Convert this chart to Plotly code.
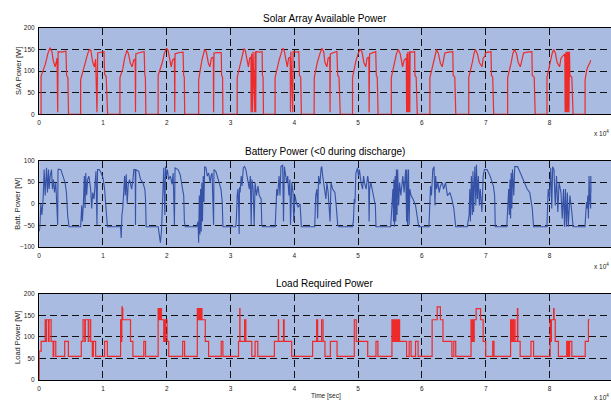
import plotly.graph_objects as go

# ---------------- data (time in units of 1e4 s) ----------------
SA_POINTS = [
    (0, 0), (0.03, 0),
    (0.03, 88), (0.045, 95), (0.068, 100), (0.094, 115), (0.12, 130), (0.135, 140), (0.17, 154), (0.2, 145),
    (0.22, 125), (0.25, 110), (0.266, 120), (0.28, 130), (0.29, 5), (0.297, 145), (0.35, 144), (0.42, 146),
    (0.43, 90), (0.45, 85), (0.46, 0), (0.65, 0),
    (0.65, 80), (0.667, 90), (0.69, 100), (0.73, 120), (0.76, 140), (0.786, 150), (0.81, 148), (0.84, 120),
    (0.865, 110), (0.885, 128), (0.906, 5), (0.917, 142), (0.97, 143), (1.016, 145), (1.026, 92), (1.05, 88),
    (1.073, 0), (1.266, 0),
    (1.266, 85), (1.29, 95), (1.31, 105), (1.34, 130), (1.375, 148), (1.40, 140), (1.43, 118), (1.458, 110),
    (1.48, 125), (1.505, 128), (1.51, 5), (1.515, 140), (1.58, 143), (1.646, 145), (1.656, 90), (1.665, 86),
    (1.672, 0), (1.865, 0),
    (1.865, 90), (1.89, 100), (1.93, 120), (1.96, 140), (1.995, 153), (2.02, 148), (2.05, 125), (2.07, 110),
    (2.09, 125), (2.12, 130), (2.125, 5), (2.13, 140), (2.2, 143), (2.255, 144), (2.265, 90), (2.275, 86),
    (2.281, 0), (2.5, 0),
    (2.5, 80), (2.52, 100), (2.55, 125), (2.594, 150), (2.62, 145), (2.65, 120), (2.675, 110), (2.70, 130),
    (2.73, 132), (2.734, 5), (2.74, 142), (2.8, 143), (2.854, 143), (2.86, 90), (2.875, 86), (2.88, 0), (3.104, 0),
    (3.104, 85), (3.13, 100), (3.16, 120), (3.21, 152), (3.23, 148), (3.26, 125), (3.28, 110), (3.30, 130),
    (3.32, 133), (3.323, 5), (3.33, 140), (3.345, 5), (3.352, 145), (3.38, 5), (3.385, 145), (3.395, 5),
    (3.40, 145), (3.45, 144), (3.495, 145), (3.50, 90), (3.51, 86), (3.516, 0), (3.698, 0),
    (3.698, 85), (3.72, 100), (3.76, 125), (3.818, 153), (3.84, 148), (3.87, 125), (3.89, 110), (3.91, 130),
    (3.935, 132), (3.94, 5), (3.945, 145), (3.975, 5), (3.98, 145), (4.03, 144), (4.07, 145), (4.08, 90),
    (4.1, 86), (4.11, 0), (4.31, 0),
    (4.3125, 85), (4.33, 100), (4.36, 120), (4.40, 140), (4.433, 153), (4.46, 145), (4.48, 120), (4.51, 110),
    (4.53, 130), (4.555, 133), (4.56, 5), (4.565, 140), (4.62, 143), (4.667, 145), (4.68, 90), (4.70, 86),
    (4.72, 0), (4.912, 0),
    (4.912, 85), (4.93, 100), (4.96, 120), (5.0, 140), (5.03, 150), (5.06, 145), (5.09, 120), (5.12, 110),
    (5.14, 130), (5.168, 132), (5.172, 5), (5.18, 140), (5.23, 143), (5.276, 145), (5.285, 90), (5.30, 86),
    (5.313, 0), (5.52, 0),
    (5.52, 85), (5.54, 100), (5.57, 120), (5.60, 140), (5.63, 150), (5.66, 140), (5.697, 110), (5.72, 125),
    (5.755, 130), (5.76, 5), (5.765, 140), (5.775, 5), (5.78, 145), (5.79, 5), (5.795, 145), (5.80, 5),
    (5.805, 145), (5.81, 5), (5.815, 145), (5.85, 144), (5.886, 145), (5.89, 90), (5.91, 86), (5.927, 0), (6.125, 0),
    (6.125, 85), (6.15, 100), (6.18, 120), (6.205, 140), (6.23, 150), (6.26, 140), (6.29, 118), (6.318, 110),
    (6.35, 130), (6.36, 142), (6.42, 144), (6.484, 145), (6.49, 90), (6.515, 86), (6.531, 0), (6.734, 0),
    (6.734, 85), (6.76, 100), (6.79, 120), (6.815, 140), (6.839, 150), (6.87, 140), (6.90, 120), (6.943, 110),
    (6.96, 130), (6.99, 135), (6.995, 142), (7.04, 144), (7.083, 145), (7.09, 90), (7.11, 86), (7.125, 0), (7.344, 0),
    (7.344, 85), (7.37, 100), (7.40, 120), (7.425, 140), (7.448, 150), (7.48, 142), (7.51, 120), (7.542, 110),
    (7.57, 130), (7.594, 142), (7.65, 144), (7.724, 145), (7.73, 90), (7.76, 86), (7.776, 0), (7.96, 0),
    (7.96, 85), (7.98, 100), (8.01, 120), (8.04, 140), (8.064, 150), (8.09, 142), (8.12, 120), (8.158, 110),
    (8.18, 130), (8.24, 140), (8.245, 5), (8.25, 145), (8.255, 5), (8.26, 145), (8.265, 5), (8.27, 145),
    (8.275, 5), (8.28, 145), (8.285, 5), (8.29, 145), (8.295, 5), (8.30, 145), (8.305, 5), (8.313, 145),
    (8.32, 90), (8.35, 86), (8.37, 0), (8.558, 0),
    (8.558, 80), (8.58, 100), (8.60, 110), (8.63, 118), (8.647, 125),
]

BATT_POINTS = [
    (0, -64), (0.01, -55), (0.026, 0), (0.042, -26), (0.062, 11), (0.078, 79), (0.094, 19), (0.115, 83),
    (0.13, 26), (0.146, 79), (0.156, 34), (0.172, 64), (0.193, 79), (0.208, 34), (0.224, 56), (0.24, 26),
    (0.26, 49), (0.29, -49), (0.295, 75), (0.30, 80), (0.34, 79), (0.375, 64), (0.406, 49), (0.427, 26),
    (0.4375, -19), (0.448, -30), (0.469, -53), (0.65, -53),
    (0.667, -4), (0.677, -41), (0.693, 0), (0.708, 64), (0.719, -10), (0.73, 71), (0.745, 20), (0.76, 56),
    (0.78, 64), (0.807, 34), (0.823, -11), (0.839, 26), (0.86, 11), (0.875, 49), (0.89, 75), (0.906, -49),
    (0.915, 79), (0.94, 79), (0.96, 75), (1.0, 60), (1.026, 34), (1.04, 4), (1.057, -49), (1.07, -53), (1.276, -53),
    (1.286, -79), (1.297, -26), (1.31, -11), (1.328, 34), (1.339, 64), (1.35, 19), (1.365, 68), (1.38, 0),
    (1.396, 45), (1.417, 56), (1.45, 34), (1.47, 56), (1.484, 79), (1.505, 79), (1.51, -49), (1.515, 79),
    (1.56, 75), (1.59, 56), (1.625, 49), (1.656, 34), (1.667, 11), (1.677, -53), (1.865, -53),
    (1.885, -71), (1.9, -90), (1.917, -64), (1.94, 19), (1.953, 83), (1.97, -26), (1.98, 86), (1.995, 64),
    (2.01, 79), (2.03, 56), (2.057, 64), (2.083, 45), (2.1, 71), (2.12, -49), (2.13, 83), (2.177, 79),
    (2.21, 68), (2.24, 41), (2.266, 19), (2.276, -41), (2.29, -53), (2.47, -53),
    (2.49, -41), (2.5, -90), (2.51, 19), (2.52, -71), (2.53, 34), (2.54, -64), (2.55, 49), (2.56, -41),
    (2.572, 64), (2.583, 4), (2.594, 86), (2.615, 83), (2.635, 64), (2.656, 71), (2.68, 49), (2.693, 64),
    (2.71, 71), (2.734, -49), (2.74, 79), (2.77, 75), (2.81, 56), (2.85, 34), (2.87, 4), (2.88, -53), (3.08, -53),
    (3.09, -41), (3.104, 19), (3.115, 34), (3.125, 4), (3.135, -70), (3.14, 38), (3.15, 26), (3.167, 64),
    (3.18, 41), (3.2, 83), (3.22, 86), (3.24, 79), (3.27, 56), (3.295, 34), (3.31, 64), (3.323, -49),
    (3.335, 56), (3.354, 34), (3.37, -49), (3.385, 49), (3.406, 19), (3.43, 41), (3.45, 19), (3.48, 11),
    (3.49, -49), (3.5, -53), (3.7, -53),
    (3.71, 4), (3.724, 34), (3.74, 19), (3.76, 64), (3.775, 19), (3.79, 86), (3.817, 90), (3.83, -41),
    (3.844, 86), (3.865, 64), (3.88, 49), (3.896, 64), (3.915, 19), (3.93, 56), (3.94, -49), (3.96, 49),
    (3.98, 26), (3.99, -41), (4.01, 19), (4.036, 0), (4.06, -8), (4.09, 0), (4.11, -53), (4.32, -53),
    (4.335, 19), (4.354, 34), (4.365, -34), (4.38, 64), (4.40, 45), (4.42, 83), (4.43, 86), (4.445, 64),
    (4.47, 34), (4.495, 11), (4.51, 49), (4.53, 26), (4.56, -41), (4.575, 49), (4.6, 34), (4.636, 26),
    (4.656, -4), (4.68, -49), (4.70, -53), (4.91, -53),
    (4.925, -41), (4.94, 11), (4.95, 0), (4.965, 71), (4.99, 83), (5.005, 64), (5.02, 79), (5.045, 49),
    (5.07, 34), (5.085, 64), (5.1, 49), (5.125, 34), (5.15, 64), (5.165, 49), (5.172, -41), (5.18, 34),
    (5.2, 49), (5.25, 4), (5.27, -4), (5.28, -53), (5.51, -53),
    (5.53, -4), (5.545, 34), (5.555, -41), (5.56, 56), (5.57, -53), (5.58, 64), (5.59, -41), (5.6, 79),
    (5.61, -26), (5.62, 79), (5.635, -4), (5.65, 49), (5.67, 19), (5.70, 64), (5.72, 26), (5.745, 79),
    (5.76, -41), (5.765, 79), (5.775, -49), (5.79, 79), (5.80, -49), (5.81, 34), (5.83, 19), (5.86, 11),
    (5.9, -4), (5.93, -41), (5.95, -53), (6.11, -53),
    (6.125, -4), (6.135, 41), (6.15, 19), (6.17, 79), (6.19, 86), (6.205, -4), (6.215, 64), (6.23, 34),
    (6.25, 49), (6.27, 26), (6.29, 41), (6.32, 49), (6.34, 34), (6.37, 49), (6.4, 19), (6.44, 26),
    (6.47, 11), (6.5, -11), (6.53, -53), (6.71, -53),
    (6.74, -26), (6.75, 34), (6.76, -41), (6.775, 64), (6.79, -26), (6.80, 75), (6.81, -19), (6.83, 86),
    (6.845, -4), (6.855, 90), (6.87, 11), (6.885, 64), (6.9, -4), (6.915, 34), (6.94, -19), (6.96, 64),
    (6.98, 79), (7.02, 79), (7.07, 64), (7.12, 41), (7.14, 19), (7.15, -53), (7.33, -53),
    (7.35, -4), (7.36, 34), (7.37, -26), (7.38, 56), (7.39, -34), (7.40, 71), (7.41, -11), (7.42, 79),
    (7.44, 19), (7.455, 86), (7.5, 86), (7.53, 75), (7.57, 64), (7.6, 49), (7.65, 34), (7.69, 26),
    (7.71, 4), (7.73, -11), (7.75, -53), (7.96, -53),
    (7.97, -4), (7.98, 34), (8.0, 11), (8.02, 83), (8.035, -11), (8.05, 86), (8.07, 79), (8.09, -4),
    (8.11, 64), (8.13, -19), (8.15, 49), (8.18, 26), (8.20, -34), (8.22, 34), (8.235, -53), (8.25, 34),
    (8.265, -53), (8.28, 26), (8.295, -53), (8.32, 19), (8.35, -19), (8.37, -53), (8.556, -53),
    (8.57, -26), (8.58, 4), (8.59, -11), (8.60, 19), (8.61, -34), (8.62, 64), (8.63, 11), (8.645, -11),
    (8.648, 64), (8.65, 26),
]

# load: value holds from each time until the next change
LOAD_STEPS = [
    (0, 0), (0.002, 67), (0.031, 90), (0.094, 140), (0.1, 90), (0.104, 140), (0.11, 90), (0.113, 140),
    (0.145, 90), (0.148, 140), (0.152, 90), (0.155, 140), (0.1875, 90), (0.219, 55), (0.229, 90), (0.26, 55),
    (0.40, 90), (0.458, 55),
    (0.66, 90), (0.6875, 140), (0.715, 90), (0.718, 140), (0.721, 90), (0.724, 140), (0.77, 90), (0.773, 140),
    (0.776, 90), (0.779, 140), (0.807, 90), (0.833, 55), (0.849, 90), (0.885, 55), (1.026, 90), (1.068, 55),
    (1.276, 140), (1.292, 90), (1.295, 140), (1.298, 170), (1.302, 140), (1.306, 166), (1.31, 140),
    (1.432, 90), (1.469, 55), (1.64, 90), (1.667, 55),
    (1.865, 166), (1.868, 140), (1.872, 166), (1.876, 140), (1.88, 166), (1.885, 140), (1.89, 166),
    (1.895, 140), (1.9, 166), (1.917, 140), (1.953, 90), (1.956, 140), (1.96, 90), (1.963, 140), (1.967, 90),
    (1.97, 140), (1.975, 90), (1.978, 140), (2.005, 90), (2.031, 55), (2.25, 90), (2.28, 55),
    (2.479, 166), (2.485, 140), (2.49, 166), (2.495, 140), (2.50, 166), (2.505, 140), (2.51, 166),
    (2.515, 140), (2.52, 166), (2.525, 140), (2.53, 166), (2.54, 140), (2.545, 166), (2.552, 140),
    (2.604, 90), (2.656, 55), (2.854, 90), (2.88, 55),
    (3.125, 90), (3.145, 166), (3.148, 90), (3.22, 140), (3.24, 90), (3.333, 55), (3.385, 90), (3.427, 55),
    (3.6875, 90), (3.75, 140), (3.753, 90), (3.83, 140), (3.84, 90), (3.958, 55),
    (4.286, 90), (4.35, 140), (4.365, 90), (4.427, 140), (4.45, 90), (4.48, 55), (4.565, 90), (4.67, 55),
    (4.94, 140), (4.97, 90), (5.15, 55), (5.28, 90), (5.31, 55),
    (5.53, 140), (5.54, 90), (5.545, 140), (5.555, 90), (5.56, 140), (5.57, 90), (5.575, 140), (5.585, 90),
    (5.59, 140), (5.60, 90), (5.605, 140), (5.615, 90), (5.62, 140), (5.63, 90), (5.635, 140), (5.65, 90),
    (5.76, 55), (5.80, 90), (5.83, 55), (5.90, 90), (5.94, 55),
    (6.16, 140), (6.24, 170), (6.29, 140), (6.33, 90), (6.47, 55), (6.50, 90), (6.53, 55),
    (6.77, 140), (6.775, 90), (6.78, 140), (6.785, 90), (6.79, 140), (6.795, 90), (6.80, 140), (6.805, 90),
    (6.81, 140), (6.815, 90), (6.82, 140), (6.85, 166), (6.92, 140), (6.96, 90), (7.0, 55), (7.11, 90), (7.13, 55),
    (7.39, 140), (7.395, 90), (7.40, 140), (7.405, 90), (7.41, 140), (7.415, 90), (7.42, 140), (7.425, 90),
    (7.43, 140), (7.435, 90), (7.44, 140), (7.46, 90), (7.497, 166), (7.503, 90), (7.54, 55), (7.71, 90), (7.75, 55),
    (8.01, 140), (8.015, 90), (8.02, 140), (8.025, 90), (8.03, 140), (8.065, 166), (8.072, 140), (8.09, 90),
    (8.14, 55), (8.27, 90), (8.28, 55), (8.285, 90), (8.295, 55), (8.30, 90), (8.31, 55), (8.315, 90),
    (8.35, 55), (8.56, 90), (8.61, 140), (8.63, 140),
]

X_TICKS = [0, 1, 2, 3, 4, 5, 6, 7, 8]
SA_TICKS = [0, 50, 100, 150, 200]
BATT_TICKS = [-100, -50, 0, 50, 100]
LOAD_TICKS = [0, 50, 100, 150, 200]

TITLES = ["Solar Array Available Power", "Battery Power (&lt;0 during discharge)", "Load Required Power"]
Y_TITLES = ["S/A Power [W]", "Batt. Power [W]", "Load Power [W]"]

# ---------------- figure ----------------
W, H = 611, 404
FONT = "Arial, Liberation Sans, sans-serif"
RED = "#ee2a2a"
BLUE = "#3552a6"
BG = "#a9bbe0"


def px_x(x):  # window pixel -> paper x
    return x / W


def px_y(y):  # window pixel -> paper y
    return 1 - y / H


sa_t, sa_v = zip(*SA_POINTS)
b_t, b_v = zip(*BATT_POINTS)
l_t, l_v = zip(*LOAD_STEPS)

fig = go.Figure()
fig.add_trace(go.Scatter(x=sa_t, y=sa_v, mode="lines", line=dict(color=RED, width=1.2),
                         xaxis="x", yaxis="y", showlegend=False))
fig.add_trace(go.Scatter(x=b_t, y=b_v, mode="lines", line=dict(color=BLUE, width=1.1),
                         xaxis="x2", yaxis="y2", showlegend=False))
fig.add_trace(go.Scatter(x=l_t, y=l_v, mode="lines", line=dict(color=RED, width=1.2, shape="hv"),
                         xaxis="x3", yaxis="y3", showlegend=False))

x_left = 37.3
x_dom = [px_x(x_left), 1.0]
x_max = (W - x_left) / 64.0
panels_px = [(24.3, 112.3), (159.3, 247.3), (295.0, 382.7)]
yranges = [[0, 200], [-100, 100], [0, 200]]
yticks = [SA_TICKS, BATT_TICKS, LOAD_TICKS]

common_axis = dict(showline=True, linecolor="black", linewidth=1.4, zeroline=False,
                   showgrid=True, gridcolor="#111111", gridwidth=1, griddash="7px,4px",
                   ticks="", tickfont=dict(family=FONT, size=6.5, color="#222"),
                   layer="below traces")

layout = dict(width=W, height=H, margin=dict(l=0, r=0, t=0, b=0),
              paper_bgcolor="white", plot_bgcolor=BG, showlegend=False,
              font=dict(family=FONT, color="black"))
annotations = []
for i, (top, bot) in enumerate(panels_px):
    sfx = "" if i == 0 else str(i + 1)
    ydom = [px_y(bot), px_y(top)]
    layout["xaxis" + sfx] = dict(common_axis, domain=x_dom, range=[0, x_max], tickvals=X_TICKS,
                                 mirror=True, anchor="y" + sfx, ticklabelstandoff=2)
    layout["yaxis" + sfx] = dict(common_axis, domain=ydom, range=yranges[i], tickvals=yticks[i],
                                 mirror=False, anchor="x" + sfx, ticklabelstandoff=2)
    title_y = [15, 150, 284.5][i]
    annotations.append(dict(text=TITLES[i], x=px_x(324), y=px_y(title_y), xref="paper", yref="paper",
                            showarrow=False, xanchor="center", yanchor="middle",
                            font=dict(family=FONT, size=10, color="black")))
    annotations.append(dict(text=Y_TITLES[i], x=px_x(16), y=px_y((top + bot) / 2), xref="paper", yref="paper",
                            showarrow=False, textangle=-90, xanchor="center", yanchor="middle",
                            font=dict(family=FONT, size=7.5, color="#222")))
    exp_y = [131.5, 267.0, 399.5][i]
    annotations.append(dict(text="x 10<sup>4</sup>", x=1.0, y=px_y(exp_y), xref="paper", yref="paper",
                            showarrow=False, xanchor="right", yanchor="middle",
                            font=dict(family=FONT, size=6.5, color="#222")))

annotations.append(dict(text="Time [sec]", x=px_x(325), y=px_y(398.5), xref="paper", yref="paper",
                        showarrow=False, xanchor="center", yanchor="middle",
                        font=dict(family=FONT, size=6.5, color="#222")))
layout["annotations"] = annotations
fig.update_layout(**layout)

# remove the default 8px page margin so the 611x404 figure fills the window exactly
fig.write_html("out.html",
               config={"displayModeBar": False},
               post_script="document.body.style.margin='0px';document.body.style.overflow='hidden';")
